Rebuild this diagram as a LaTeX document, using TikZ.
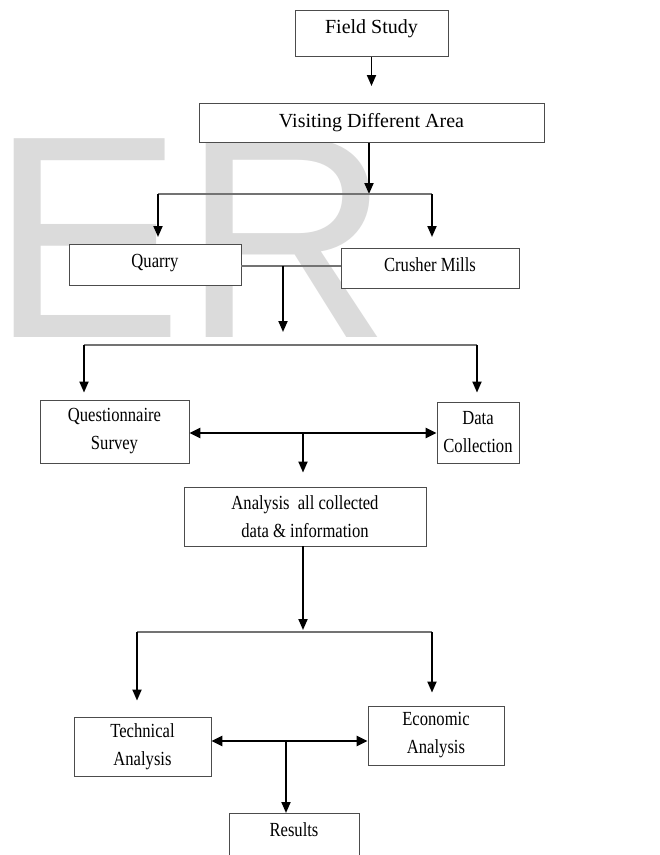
\documentclass[tikz,border=0pt]{standalone}
\usepackage{fontspec}
\setmainfont{Liberation Serif}
\newfontfamily\condfont[FakeStretch=0.83]{Liberation Serif}
\newfontfamily\wmfont{Liberation Sans}
\usetikzlibrary{arrows.meta}
\begin{document}
\begin{tikzpicture}[x=1pt,y=-1pt,
  box/.style={draw=black!70, line width=0.9pt, fill=white, inner sep=0pt},
  normaltxt/.style={font=\fontsize{20}{28}\selectfont},
  condtxt/.style={font=\condfont\fontsize{20}{28}\selectfont},
  arr/.style={line width=1.9pt, -{Triangle[length=11pt,width=9pt]}},
  darr/.style={line width=2.4pt, {Triangle[length=11pt,width=10pt]}-{Triangle[length=11pt,width=10pt]}},
  thinline/.style={draw=black!55, line width=1.3pt}
]
\useasboundingbox (0,0) rectangle (660,855);
\clip (0,0) rectangle (660,855);
\fill[white] (0,0) rectangle (660,855);

% watermark
\node[anchor=base west, inner sep=0pt, text=black!14,
      font=\wmfont\fontsize{289}{289}\selectfont] (wm) at (-10,337) {ER};

% boxes
\node[box, normaltxt, minimum width=153pt, text height=23.3pt, text depth=22.7pt, anchor=north]
  (fs) at (371.5,10) {Field Study};
\node[box, normaltxt, minimum width=345pt, text height=23.7pt, text depth=15.3pt, anchor=north]
  (vda) at (371.5,103) {Visiting Different Area};
\node[box, condtxt, minimum width=172pt, text height=23pt, text depth=18pt, anchor=north]
  (qu) at (155,244) {Quarry};
\node[box, condtxt, minimum width=178pt, text height=23pt, text depth=17pt, anchor=north]
  (cm) at (430,248) {Crusher Mills};
\node[box, condtxt, align=center, minimum width=149pt, minimum height=63pt]
  (qs) at (114.5,431.5) {Questionnaire\\Survey};
\node[box, condtxt, align=center, minimum width=82pt, minimum height=61pt]
  (dc) at (478,432.5) {Data\\Collection};
\node[box, condtxt, align=center, minimum width=242pt, minimum height=59pt]
  (an) at (305,516.5) {Analysis~~all collected\\data \& information};
\node[box, condtxt, align=center, minimum width=137pt, minimum height=59pt]
  (ta) at (142.5,746.5) {Technical\\Analysis};
\node[box, condtxt, align=center, minimum width=136pt, minimum height=59pt]
  (ea) at (436,735.5) {Economic\\Analysis};
\node[box, condtxt, minimum width=130pt, text height=23pt, text depth=45pt, anchor=north]
  (re) at (294,813) {Results};

% junctions
\coordinate (j1) at (369,194);
\coordinate (j1l) at (158,194);
\coordinate (j1r) at (432,194);
\coordinate (j2) at (283,266);
\coordinate (j3) at (283,345);
\coordinate (j3l) at (84,345);
\coordinate (j3r) at (477,345);
\coordinate (j4) at (303,433);
\coordinate (j5) at (303,632);
\coordinate (j5l) at (137,632);
\coordinate (j5r) at (432,632);
\coordinate (j6) at (286,741);

% connectors
\draw[arr, shorten >=17pt] (fs.south) -- (vda.north);
\draw[arr] (vda.south -| j1) -- (j1);
\draw[thinline] (j1l) -- (j1r);
\draw[arr, shorten >=7pt] (j1l) -- (j1l |- qu.north);
\draw[arr, shorten >=11pt] (j1r) -- (j1r |- cm.north);

\draw[thinline] (qu.east |- j2) -- (cm.west |- j2);
\draw[arr, shorten >=13pt] (j2) -- (j3);
\draw[thinline] (j3l) -- (j3r);
\draw[arr, shorten >=7pt] (j3l) -- (j3l |- qs.north);
\draw[arr, shorten >=9pt] (j3r) -- (j3r |- dc.north);

\draw[darr] (qs.east |- j4) -- (dc.west |- j4);
\draw[arr, shorten >=14pt] (j4) -- (j4 |- an.north);

\draw[arr, shorten >=2pt] (an.south -| j5) -- (j5);
\draw[thinline] (j5l) -- (j5r);
\draw[arr, shorten >=16pt] (j5l) -- (j5l |- ta.north);
\draw[arr, shorten >=13pt] (j5r) -- (j5r |- ea.north);

\draw[darr] (ta.east |- j6) -- (ea.west |- j6);
\draw[arr] (j6) -- (j6 |- re.north);
\end{tikzpicture}
\end{document}
